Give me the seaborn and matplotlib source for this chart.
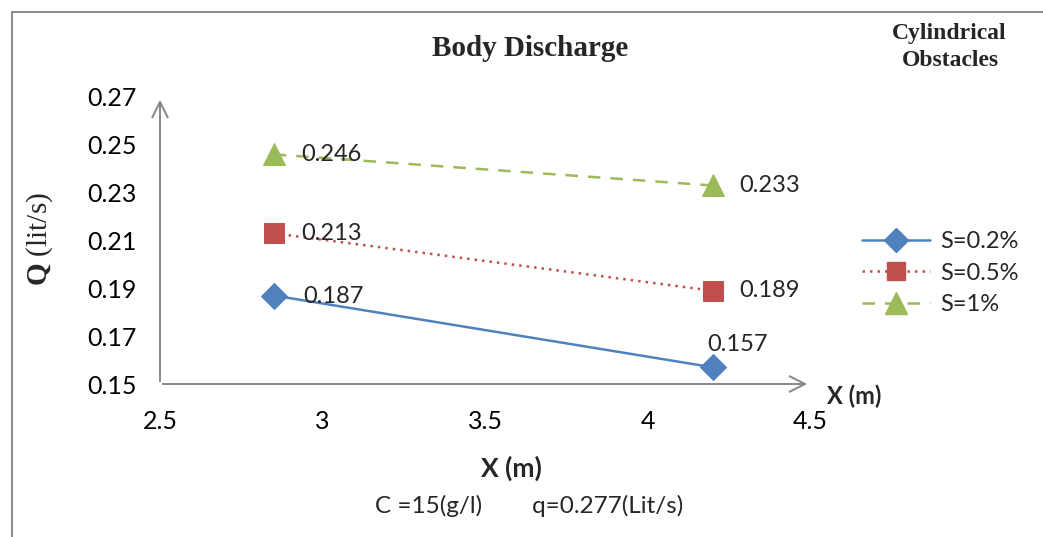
import matplotlib
matplotlib.use("Agg")
import matplotlib.pyplot as plt
import seaborn as sns
import pandas as pd
from matplotlib.lines import Line2D

# ---- data ----
x_pos = [2.85, 4.2]
s02 = [0.187, 0.157]
s05 = [0.213, 0.189]
s1 = [0.246, 0.233]
series_names = ["S=0.2%", "S=0.5%", "S=1%"]
x_ticks = [2.5, 3, 3.5, 4, 4.5]
x_tick_labels = ["2.5", "3", "3.5", "4", "4.5"]
y_ticks = [0.15, 0.17, 0.19, 0.21, 0.23, 0.25, 0.27]
y_tick_labels = ["0.15", "0.17", "0.19", "0.21", "0.23", "0.25", "0.27"]

sns.set_theme(style="white")
plt.rcParams['font.family'] = ['Lato', 'DejaVu Sans']
plt.rcParams['mathtext.fontset'] = 'custom'
plt.rcParams['mathtext.rm'] = 'Liberation Serif'
plt.rcParams['mathtext.bf'] = 'Liberation Serif:bold'

W, H = 1043, 537
fig = plt.figure(figsize=(W / 100, H / 100), dpi=100)
fig.patch.set_facecolor("white")

def fx(px):
    return px / W

def fy(py):
    return 1 - py / H

# outer chart border (partly outside the image)
fig.add_artist(Line2D([fx(12), fx(12)], [fy(12), fy(540)], color="#8c8c8c", lw=1.5))
fig.add_artist(Line2D([fx(12), fx(1050)], [fy(12), fy(12)], color="#8c8c8c", lw=1.5))

ax = fig.add_axes([fx(160), fy(384), fx(810) - fx(160), fy(97) - fy(384)])
ax.set_facecolor("none")

df = pd.DataFrame({
    "X": x_pos * 3,
    "Q": s02 + s05 + s1,
    "S": [series_names[0]] * 2 + [series_names[1]] * 2 + [series_names[2]] * 2,
})

colors = ["#4F81BD", "#C0504D", "#9BBB59"]
markers = ["D", "s", "^"]
msizes = [13, 14, 16]
lstyles = ["-", (0, (1, 2)), (0, (5, 4))]

for name, c, m, ms, ls in zip(series_names, colors, markers, msizes, lstyles):
    sub = df[df["S"] == name]
    sns.lineplot(data=sub, x="X", y="Q", ax=ax, color=c, marker=m, markersize=ms,
                 markeredgecolor=c, linestyle=ls, linewidth=1.8, legend=False, zorder=3)

ax.set_xlim(2.5, 4.5)
ax.set_ylim(0.15, 0.27)
ax.set_xticks(x_ticks)
ax.set_xticklabels(x_tick_labels)
ax.set_yticks(y_ticks)
ax.set_yticklabels(y_tick_labels)
ax.tick_params(axis="y", length=0, pad=17, labelsize=18, colors="black")
ax.tick_params(axis="x", direction="inout", length=14, width=1.3, color="#868686",
               pad=12, labelsize=18, labelcolor="black")
for sp in ax.spines.values():
    sp.set_visible(False)
ax.set_xlabel("")
ax.set_ylabel("")
ax.grid(False)

# axes with arrow heads
arrow_kw = dict(arrowstyle="->", color="#868686", lw=1.4, mutation_scale=28)
ax.annotate("", xy=(1.0, 0), xytext=(0, 0), xycoords="axes fraction",
            textcoords="axes fraction", arrowprops=arrow_kw, annotation_clip=False)
ax.annotate("", xy=(0, 1.0), xytext=(0, 0), xycoords="axes fraction",
            textcoords="axes fraction", arrowprops=arrow_kw, annotation_clip=False)

# data labels
for xs, ys in [(x_pos, s1), (x_pos, s05)]:
    for xv, yv in zip(xs, ys):
        ax.annotate(f"{yv:.3f}", xy=(xv, yv), xytext=(27, 0), textcoords="offset pixels",
                    ha="left", va="center", fontsize=17, zorder=4)
ax.annotate(f"{s02[0]:.3f}", xy=(x_pos[0], s02[0]), xytext=(29, -1), textcoords="offset pixels",
            ha="left", va="center", fontsize=17, zorder=4)
ax.annotate(f"{s02[1]:.3f}", xy=(x_pos[1], s02[1]), xytext=(25, 23), textcoords="offset pixels",
            ha="center", va="center", fontsize=17, zorder=4)

# titles and labels
fig.text(fx(530), fy(48), "Body Discharge", ha="center", va="center",
         family="Liberation Serif", fontweight="bold", fontsize=21)
fig.text(fx(949), fy(34), "Cylindrical", ha="center", va="center",
         family="Liberation Serif", fontweight="bold", fontsize=17)
fig.text(fx(950), fy(61), "Obstacles", ha="center", va="center",
         family="Liberation Serif", fontweight="bold", fontsize=17)
fig.text(fx(40), fy(239), r"$\mathbf{Q}$ (lit/s)", ha="center", va="center", rotation=90,
         family="Liberation Serif", fontsize=21)
fig.text(fx(854), fy(396), "X (m)", ha="center", va="center", fontweight="bold", fontsize=17)
fig.text(fx(511), fy(468), "X (m)", ha="center", va="center", fontweight="bold", fontsize=19)
fig.text(fx(529), fy(506), "C =15(g/l)        q=0.277(Lit/s)", ha="center", va="center", fontsize=17.5)

# legend
handles = [Line2D([0], [0], color=c, marker=m, markersize=ms * 0.95, linestyle=ls, lw=1.8,
                  markeredgecolor=c)
           for c, m, ms, ls in zip(colors, markers, msizes, lstyles)]
fig.legend(handles, series_names, loc="center left", bbox_to_anchor=(fx(850), fy(273)),
           frameon=False, fontsize=17, handlelength=2.9, labelspacing=0.45,
           handletextpad=0.4, borderpad=0)

fig.savefig("out.png", dpi=100, facecolor="white")
